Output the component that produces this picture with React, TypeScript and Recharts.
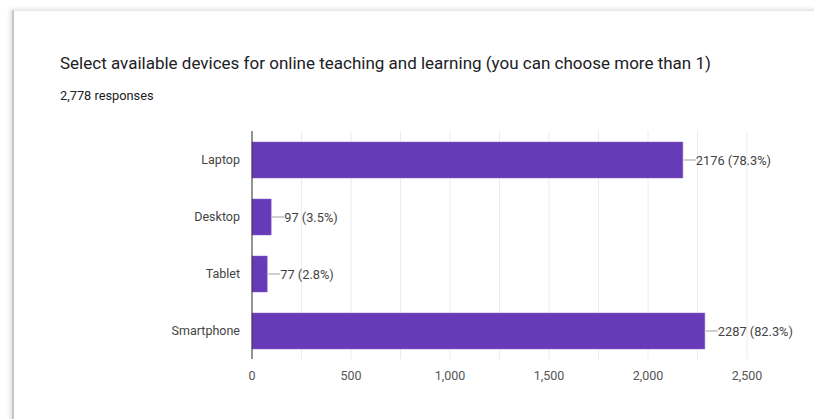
import React from 'react';
import { BarChart, Bar, XAxis, YAxis, CartesianGrid, LabelList } from 'recharts';

const devices = ['Laptop', 'Desktop', 'Tablet', 'Smartphone'];
const counts = [2176, 97, 77, 2287];
const percents = ['78.3%', '3.5%', '2.8%', '82.3%'];
const gridTicks = [0, 250, 500, 750, 1000, 1250, 1500, 1750, 2000, 2250, 2500];
const tickLabels = ['0', '500', '1,000', '1,500', '2,000', '2,500'];

const data = devices.map((name, i) => ({ name, value: counts[i], pct: percents[i] }));

const font = 'Roboto, Arial, sans-serif';

const BarLabel = (props: any) => {
  const { x, y, width, height, index } = props;
  const end = x + width;
  const cy = y + height / 2;
  return (
    <g>
      <line x1={end + 1} y1={cy} x2={end + 13} y2={cy} stroke="#9e9e9e" strokeWidth={1} />
      <text x={end + 13} y={cy} dominantBaseline="central" fontSize={12.8} fill="#444" fontFamily={font}>
        {counts[index]} ({percents[index]})
      </text>
    </g>
  );
};

const App: React.FC = () => {
  const fmt = (v: number) => {
    const i = gridTicks.filter(t => t % 500 === 0).indexOf(v);
    return i >= 0 ? tickLabels[i] : '';
  };

  return (
    <div style={{ position: 'absolute', left: 0, top: 0, width: 814, height: 419, background: '#fff', overflow: 'hidden' }}>
      <div style={{
        position: 'absolute', left: 12, top: 10, width: 840, height: 440,
        borderLeft: '2px solid #c8c8c8', borderTop: '1px solid #e6e6e6',
        boxShadow: '-2px -1px 4px rgba(0,0,0,0.12)', background: '#fff'
      }} />
      <div style={{ position: 'absolute', left: 60, top: 53, fontFamily: font, fontSize: 17, color: '#202124', whiteSpace: 'nowrap' }}>
        Select available devices for online teaching and learning (you can choose more than 1)
      </div>
      <div style={{ position: 'absolute', left: 60, top: 88, fontFamily: font, fontSize: 12.8, color: '#202124', whiteSpace: 'nowrap' }}>
        2,778 responses
      </div>
      <div style={{ position: 'absolute', left: 0, top: 0 }}>
        <BarChart
          width={814}
          height={419}
          data={data}
          layout="vertical"
          margin={{ top: 131, right: 67, bottom: 30, left: 0 }}
          barSize={36}
        >
          <CartesianGrid horizontal={false} stroke="#ececec" />
          <XAxis
            type="number"
            domain={[0, 2500]}
            ticks={gridTicks}
            tickFormatter={fmt}
            interval={0}
            axisLine={false}
            tickLine={false}
            tickMargin={6}
            height={30}
            tick={{ fontSize: 12.5, fill: '#555', fontFamily: font }}
          />
          <YAxis
            type="category"
            dataKey="name"
            width={252}
            axisLine={{ stroke: '#333' }}
            tickLine={false}
            tickMargin={6}
            tick={{ fontSize: 12.5, fill: '#444', fontFamily: font }}
          />
          <Bar dataKey="value" fill="#673ab7" stroke="#8a65c9" strokeWidth={0.5} isAnimationActive={false}>
            <LabelList dataKey="value" content={<BarLabel />} />
          </Bar>
        </BarChart>
      </div>
    </div>
  );
};

export default App;
